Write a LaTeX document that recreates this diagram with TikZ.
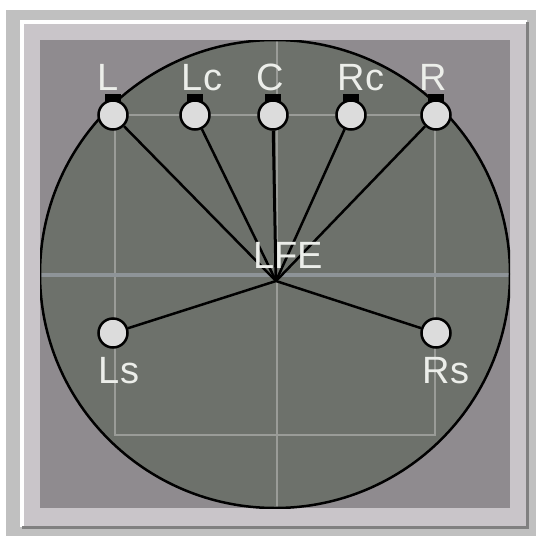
\documentclass[tikz,border=0pt]{standalone}
\usepackage{fontspec}
\setmainfont{Liberation Sans}
\definecolor{outergray}{HTML}{C0C0C0}
\definecolor{bevelgray}{HTML}{C9C5C9}
\definecolor{panelgray}{HTML}{8F8B8F}
\definecolor{fieldgray}{HTML}{6D716B}
\definecolor{gridgray}{HTML}{9A9C98}
\definecolor{axisgray}{HTML}{8E9498}
\definecolor{spkfill}{HTML}{DCDCDC}
\definecolor{labelcol}{HTML}{ECEEEA}
\begin{document}
\begin{tikzpicture}[x=1pt,y=-1pt,
  spk/.style={circle,draw=black,line width=2.5pt,fill=spkfill,minimum size=29pt,inner sep=0pt},
  spkcap/.style={fill=black,minimum width=16pt,minimum height=8pt,inner sep=0pt},
  lbl/.style={text=labelcol,font=\fontsize{38}{38}\selectfont,inner sep=0pt,anchor=base},
  wire/.style={black,line width=2.5pt},
  gridline/.style={gridgray,line width=2pt}]
\useasboundingbox (0,0) rectangle (536,536);
\fill[white] (0,0) rectangle (536,536);
% frame
\fill[outergray] (6,10) rectangle (536,536);
\draw[white,line width=4pt] (22,527) -- (22,22) -- (527,22);
\draw[gray,line width=3pt] (22,527.5) -- (527,527.5) -- (527,22);
\fill[bevelgray] (24,24) rectangle (525.5,526);
\fill[panelgray] (40,40) rectangle (510,508);
% field
\begin{scope}
\clip (40,40) rectangle (510,508);
\fill[fieldgray] (275,274) ellipse (235 and 234);
\begin{scope}
\clip (275,274) ellipse (235 and 234);
\draw[gridline] (115,115) rectangle (435,435);
\draw[axisgray,line width=4pt] (40,275) -- (510,275);
\draw[gridline] (277,40) -- (277,508);
\end{scope}
\draw[black,line width=2.5pt] (275,274) ellipse (235 and 234);
\end{scope}
% hub
\coordinate (hub) at (276,281);
% speakers
\node[spkcap] (Lcap) at (113,98) {};
\node[spkcap] (Lccap) at (195,98) {};
\node[spkcap] (Ccap) at (273,98) {};
\node[spkcap] (Rccap) at (351,98) {};
\node[spkcap] (Rcap) at (436,98) {};
\node[spk] (L) at (113,115) {};
\node[spk] (Lc) at (195,115) {};
\node[spk] (C) at (273,115) {};
\node[spk] (Rc) at (351,115) {};
\node[spk] (R) at (436,115) {};
\node[spk] (Ls) at (113,333) {};
\node[spk] (Rs) at (436,333) {};
\draw[wire] (hub) -- (L);
\draw[wire] (hub) -- (Lc);
\draw[black,line width=3pt] (hub) -- (C);
\draw[wire] (hub) -- (Rc);
\draw[wire] (hub) -- (R);
\draw[wire] (hub) -- (Ls);
\draw[wire] (hub) -- (Rs);
% labels
\node[lbl] (tL) at (108,90) {L};
\node[lbl] (tLc) at (202,90) {Lc};
\node[lbl] (tC) at (270,90) {C};
\node[lbl] (tRc) at (361,90) {Rc};
\node[lbl] (tR) at (433,90) {R};
\node[lbl] (tLFE) at (288,268) {LFE};
\node[lbl] (tLs) at (119,383) {Ls};
\node[lbl] (tRs) at (446,383) {Rs};
\end{tikzpicture}
\end{document}
